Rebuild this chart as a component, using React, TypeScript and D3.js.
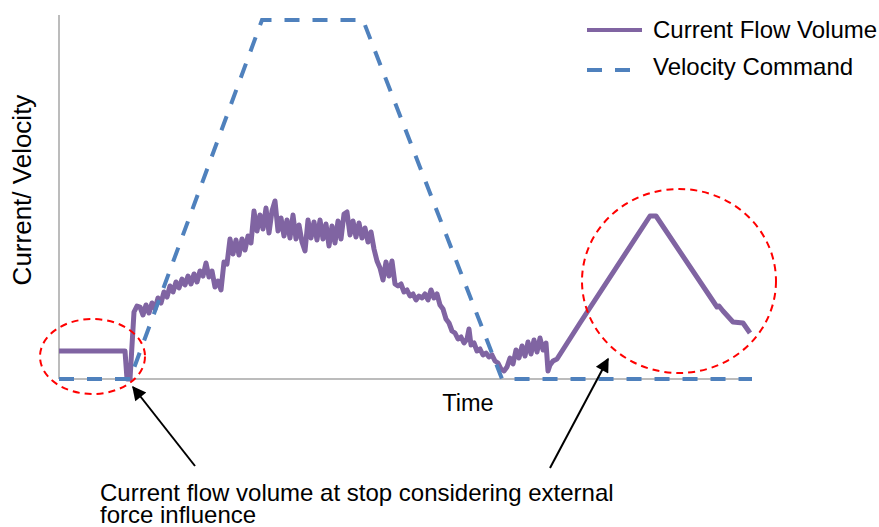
import React from "react";
import * as d3 from "d3";

// Time / value in arbitrary units (time 0..693, value 0..364)
const velocityTime = [0, 71, 203, 304, 443, 693];
const velocityValue = [0, 0, 359, 359, 0, 0];

const currentTime = [
  0, 66, 68, 71, 75, 78,
  81, 84, 87, 90, 93, 96, 99, 102, 105, 108, 111, 114, 117, 120, 123, 126, 129, 132, 135, 138,
  141, 144, 147, 150, 153, 156, 159, 162, 165, 168, 171, 174, 177, 180, 183, 186, 189, 192, 195, 198,
  201, 204, 207, 210, 213, 216, 219, 222, 225, 228, 231, 234, 237, 240, 243, 246, 249, 252, 255, 258,
  261, 264, 267, 270, 273, 276, 279, 282, 285, 288, 291, 294, 297, 300, 303, 306, 309, 312, 315, 318,
  321, 324, 327, 330, 333, 336, 339, 342, 345, 348, 351, 354, 357, 360, 363, 366, 369, 372, 375, 378,
  381, 384, 387, 390, 393, 396, 399, 402, 405, 408, 410, 412, 415, 418, 421, 424, 427, 430, 433, 436,
  439, 442, 445, 448, 451, 454, 457, 460, 463, 466, 469, 472, 475, 478, 481, 484, 487, 489, 491, 494,
  498, 521, 591, 597, 658, 660, 664, 674, 684, 691,
];
const currentValue = [
  28, 28, 0, 0, 67, 73,
  72, 64, 74, 66, 76, 70, 81, 76, 87, 82, 93, 87, 97, 91, 100, 94, 103, 95, 105, 97,
  108, 103, 116, 102, 108, 92, 98, 89, 117, 115, 140, 125, 139, 124, 140, 129, 143, 136, 168, 148,
  164, 150, 171, 146, 168, 178, 148, 161, 143, 159, 141, 164, 140, 154, 137, 128, 159, 141, 157, 139,
  159, 140, 155, 133, 153, 136, 158, 140, 165, 167, 144, 158, 142, 156, 141, 151, 137, 147, 130, 118,
  111, 99, 117, 103, 118, 95, 93, 95, 87, 89, 83, 85, 79, 83, 81, 85, 79, 89, 81, 85,
  74, 70, 60, 56, 48, 46, 40, 42, 36, 40, 50, 34, 36, 28, 30, 24, 26, 22, 24, 18,
  16, 10, 8, 12, 21, 15, 29, 21, 33, 23, 37, 25, 39, 27, 41, 29, 36, 8, 14, 18,
  20, 56, 163, 163, 72, 73, 68, 57, 56, 46,
];

const legendLabels = ["Current Flow Volume", "Velocity Command"];
const xAxisLabel = "Time";
const yAxisLabel = "Current/ Velocity";
const noteLines = ["Current flow volume at stop considering external", "force influence"];

const PURPLE = "#8064A2";
const BLUE = "#4F81BD";
const FONT = "'Liberation Sans', Arial, sans-serif";

export default function App() {
  const W = 879;
  const H = 527;
  const x = d3.scaleLinear().domain([0, 693]).range([59, 752]);
  const y = d3.scaleLinear().domain([0, 364]).range([379, 15]);

  const vel = velocityTime.map((t, i) => [t, velocityValue[i]] as [number, number]);
  const cur = currentTime.map((t, i) => [t, currentValue[i]] as [number, number]);
  const line = d3
    .line<[number, number]>()
    .x((d) => x(d[0]))
    .y((d) => y(d[1]));

  const [x0, x1] = x.range();
  const [y0, y1] = y.range();

  return (
    <svg
      width={W}
      height={H}
      style={{ position: "absolute", left: 0, top: 0, background: "#fff" }}
      fontFamily={FONT}
    >
      <defs>
        <marker
          id="ah"
          viewBox="0 0 10 10"
          refX="9"
          refY="5"
          markerWidth="18"
          markerHeight="14"
          markerUnits="userSpaceOnUse"
          orient="auto"
        >
          <path d="M0,0 L10,5 L0,10 z" fill="#000" />
        </marker>
      </defs>
      {/* axes */}
      <line x1={x0} y1={y1} x2={x0} y2={y0} stroke="#a6a6a6" strokeWidth={1.5} />
      <line x1={x0} y1={y0} x2={x1} y2={y0} stroke="#a6a6a6" strokeWidth={1.5} />

      {/* series */}
      <path
        d={line(cur) || ""}
        fill="none"
        stroke={PURPLE}
        strokeWidth={5}
        strokeLinejoin="round"
      />
      <path
        d={line(vel) || ""}
        fill="none"
        stroke={BLUE}
        strokeWidth={4}
        strokeDasharray="15 13"
      />

      {/* red dashed ellipses */}
      <ellipse cx={92.5} cy={356.5} rx={52.5} ry={37.5} fill="none" stroke="#ff0000" strokeWidth={2} strokeDasharray="7 5" />
      <ellipse cx={679} cy={281} rx={97} ry={92} fill="none" stroke="#ff0000" strokeWidth={2} strokeDasharray="7 5" />

      {/* arrows */}
      <line x1={195} y1={466} x2={133} y2={387} stroke="#000" strokeWidth={2} markerEnd="url(#ah)" />
      <line x1={550} y1={468} x2={608} y2={359} stroke="#000" strokeWidth={2} markerEnd="url(#ah)" />

      {/* axis labels */}
      <text x={468} y={411} fontSize={23.5} textAnchor="middle" fill="#000">
        {xAxisLabel}
      </text>
      <text
        transform={`translate(31,190) rotate(-90)`}
        fontSize={26}
        textAnchor="middle"
        fill="#000"
      >
        {yAxisLabel}
      </text>

      {/* legend */}
      <line x1={587} y1={30} x2={642} y2={30} stroke={PURPLE} strokeWidth={4} />
      <text x={653} y={38} fontSize={24} fill="#000">
        {legendLabels[0]}
      </text>
      <line x1={587} y1={70} x2={642} y2={70} stroke={BLUE} strokeWidth={4} strokeDasharray="15 13" />
      <text x={653} y={75} fontSize={24} fill="#000">
        {legendLabels[1]}
      </text>

      {/* annotation */}
      <text x={100} y={501} fontSize={24} fill="#000">
        {noteLines[0]}
      </text>
      <text x={100} y={523} fontSize={24} fill="#000">
        {noteLines[1]}
      </text>
    </svg>
  );
}
